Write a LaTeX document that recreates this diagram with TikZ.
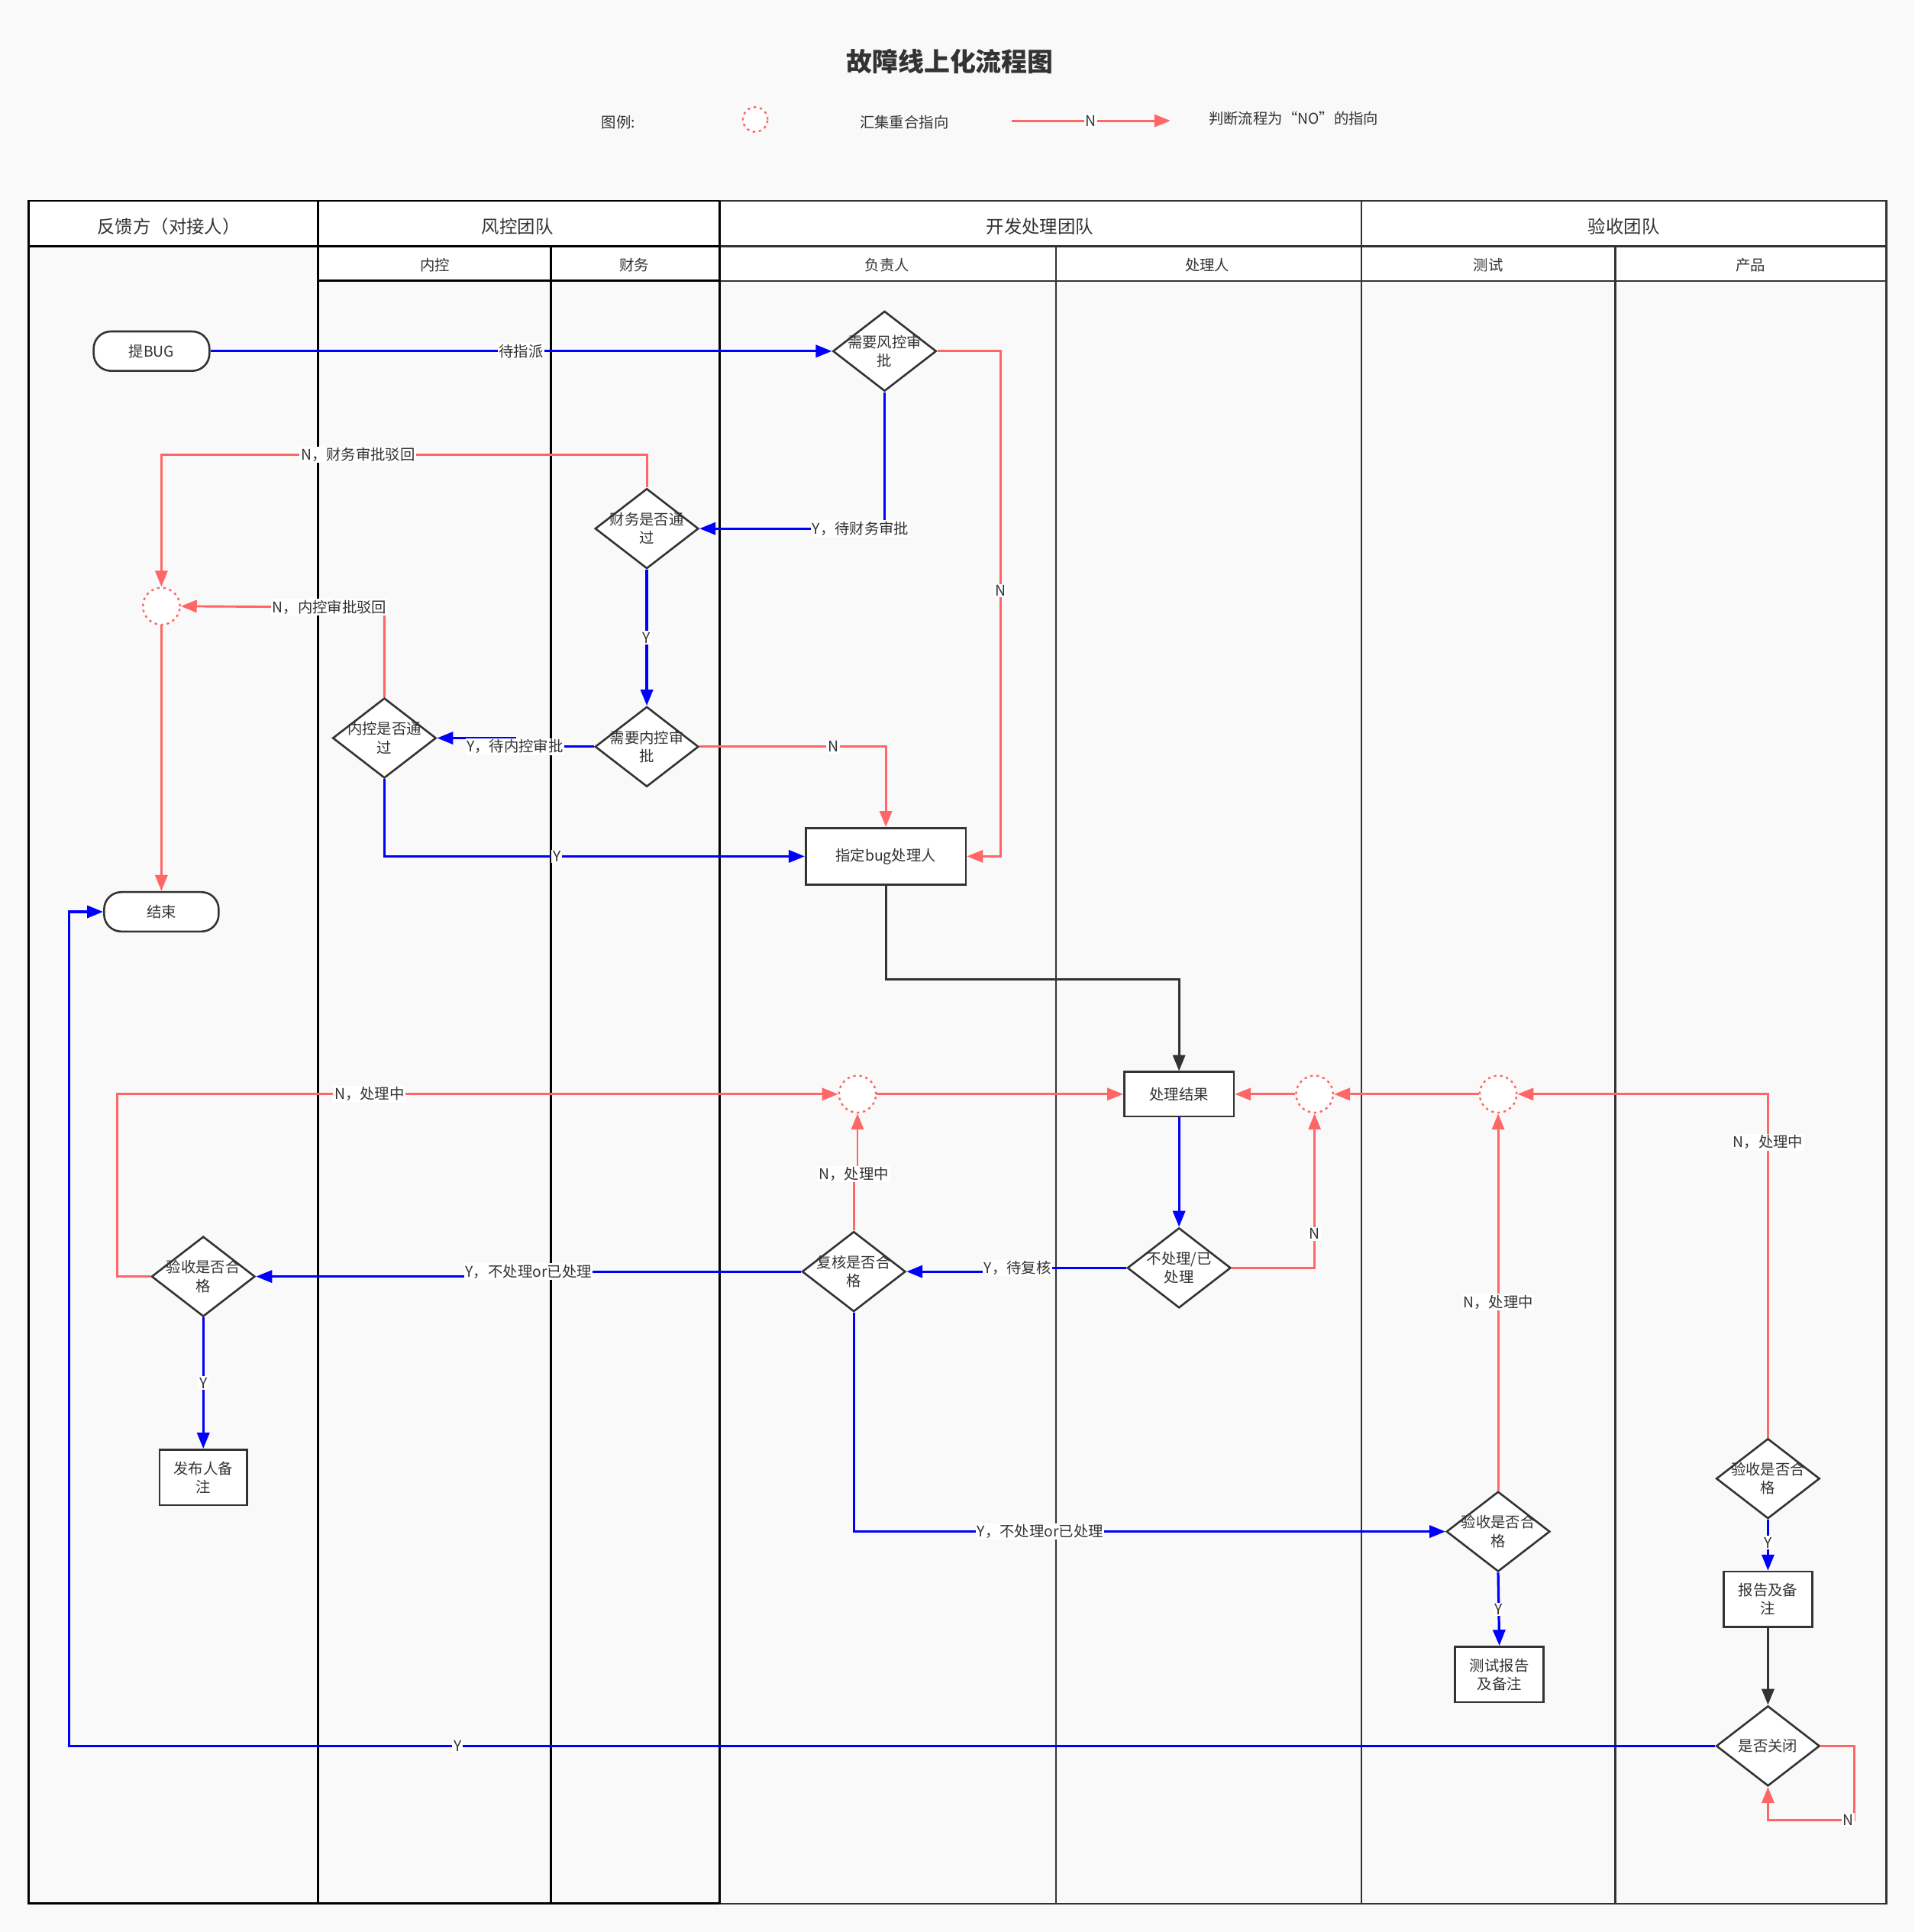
\documentclass[tikz,border=0pt]{standalone}
\usepackage{fontspec}
\setmainfont{Noto Sans CJK SC}
\usetikzlibrary{shapes.geometric,arrows.meta}
\definecolor{bg}{HTML}{F9F9F9}
\definecolor{ink}{HTML}{333333}
\definecolor{nred}{HTML}{FF6666}
\definecolor{yblue}{HTML}{0000FF}
\begin{document}
\begin{tikzpicture}[x=1pt,y=-1pt,
  txt/.style={font=\fontsize{12}{15}\selectfont, text=ink},
  hdr/.style={font=\fontsize{14.5}{16}\selectfont, text=ink},
  sub/.style={font=\fontsize{12}{14}\selectfont, text=ink},
  dia/.style={diamond, draw=ink, line width=1.6pt, fill=white, minimum width=84pt, minimum height=65pt, inner sep=0pt},
  box/.style={rectangle, draw=ink, line width=1.6pt, fill=white, txt, align=center, inner sep=0pt},
  term/.style={rectangle, rounded corners=14pt, draw=ink, line width=1.6pt, fill=white, txt, minimum width=94pt, minimum height=32pt},
  merge/.style={circle, draw=nred, line width=1.5pt, dash pattern=on 2pt off 3pt, fill=white, minimum size=30pt, inner sep=0pt},
  tip/.style={-{Triangle[length=13pt,width=10pt]}},
  yes/.style={draw=yblue, line width=2pt, tip},
  no/.style={draw=nred, line width=1.8pt, tip},
  flow/.style={draw=ink, line width=2pt, tip},
  lbl/.style={txt, fill=white, inner sep=1pt},
  dtxt/.style={label={[txt,align=center]center:#1}},
  blk/.style={draw=black, line width=1.8pt},
  gry/.style={draw=ink, line width=1.6pt}
]
% background and bounding box
\fill[bg] (0,0) rectangle (1554,1568);
\useasboundingbox (0,0) rectangle (1554,1568);

% title and legend
\node[font=\fontsize{21}{24}\selectfont\bfseries, text=ink] (title) at (771,50) {故障线上化流程图};
\node[txt] (lg) at (502,99) {图例:};
\node[merge, minimum size=20pt] (lgc) at (613,97) {};
\node[txt] (lgm) at (734,99) {汇集重合指向};
\coordinate (lga) at (821,98);
\coordinate (lgb) at (950,98);
\draw[no] (lga) -- node[lbl]{N} (lgb);
\node[txt] (lgn) at (1050,96) {判断流程为“NO”的指向};

% pool
\fill[white] (23,163) rectangle (1531,200);
\fill[white] (258,200) rectangle (1531,228);
\draw[gry] (584,163) -- (1531,163) -- (1531,1545) -- (584,1545);
\draw[gry] (584,200) -- (1531,200);
\draw[gry] (584,228) -- (1531,228);
\draw[gry] (857,200) -- (857,1545);
\draw[gry] (1105,163) -- (1105,1545);
\draw[gry] (1311,200) -- (1311,1545);
\draw[blk] (584,163) -- (23,163) -- (23,1545) -- (584,1545);
\draw[blk] (23,200) -- (584,200);
\draw[blk] (258,228) -- (584,228);
\draw[blk] (258,163) -- (258,1545);
\draw[blk] (447,200) -- (447,1545);
\draw[blk] (584,163) -- (584,1545);

\node[hdr] (h1) at (137,184) {反馈方（对接人）};
\node[hdr] (h2) at (420,184) {风控团队};
\node[hdr] (h3) at (844,184) {开发处理团队};
\node[hdr] (h4) at (1318,184) {验收团队};
\node[sub] (s1) at (353,215) {内控};
\node[sub] (s2) at (515,215) {财务};
\node[sub] (s3) at (720,215) {负责人};
\node[sub] (s4) at (980,215) {处理人};
\node[sub] (s5) at (1208,215) {测试};
\node[sub] (s6) at (1421,215) {产品};

% nodes
\node[term] (bug) at (123,285) {提BUG};
\node[dia, dtxt={需要风控审\\批}] (q1) at (718,285) {};
\node[dia, dtxt={财务是否通\\过}] (fin) at (525,429) {};
\node[merge] (m1) at (131,492) {};
\node[dia, dtxt={需要内控审\\批}] (nk) at (525,606) {};
\node[dia, dtxt={内控是否通\\过}] (nkp) at (312,599) {};
\node[box, minimum width=130pt, minimum height=46pt] (assign) at (719,695) {指定bug处理人};
\node[term, minimum width=93pt] (end) at (131,740) {结束};
\node[box, minimum width=89pt, minimum height=36pt] (res) at (957,888) {处理结果};
\node[merge] (m2) at (696,888) {};
\node[merge] (m3) at (1067,888) {};
\node[merge] (m4) at (1216,888) {};
\node[dia, dtxt={不处理/已\\处理}] (dis) at (957,1029) {};
\node[dia, dtxt={复核是否合\\格}] (rev) at (693,1032) {};
\node[dia, dtxt={验收是否合\\格}] (acc1) at (165,1036) {};
\node[box, minimum width=71pt, minimum height=45pt] (pub) at (165,1199) {发布人备\\注};
\node[dia, dtxt={验收是否合\\格}] (acc2) at (1216,1243) {};
\node[box, minimum width=72pt, minimum height=45pt] (trep) at (1217,1359) {测试报告\\及备注};
\node[dia, dtxt={验收是否合\\格}] (acc3) at (1435,1200) {};
\node[box, minimum width=72pt, minimum height=45pt] (prep) at (1435,1298) {报告及备\\注};
\node[dia, dtxt={是否关闭}] (close) at (1435,1417) {};

% connectors
\draw[yes] (bug.east) -- node[lbl]{待指派} (q1.west);
\draw[yes] (q1.south) -- (718,429) -- node[lbl,pos=0.13]{Y，待财务审批} (fin.east);
\draw[no] (q1.east) -- (812,285) -- node[lbl,pos=0.474]{N} (812,695) -- (assign.east);
\draw[no] (fin.north) -- (525,369) -- node[lbl,pos=0.595]{N，财务审批驳回} (131,369) -- (m1.north);
\draw[yes] (fin.south) -- node[lbl]{Y} (nk.north);
\draw[yes] (nk.west) -- (418,606) node[lbl]{Y，待内控审批} -- (418,599) -- (nkp.east);
\draw[no] (nk.east) -- node[lbl,pos=0.717]{N} (719,606) -- (assign.north);
\draw[yes] (nkp.south) -- (312,695) -- node[lbl,pos=0.41]{Y} (assign.west);
\draw[no] (nkp.north) -- (312,493) -- node[lbl,pos=0.27]{N，内控审批驳回} (m1.east);
\draw[no] (m1.south) -- (end.north);
\draw[flow] (assign.south) -- (719,795) -- (957,795) -- (res.north);
\draw[yes] (res.south) -- (dis.north);
\draw[yes] (dis.west) -- (826,1029) node[lbl]{Y，待复核} -- (826,1032) -- (rev.east);
\draw[no] (dis.east) -- (1067,1029) -- node[lbl,pos=0.22]{N} (m3.south);
\draw[no] (m3.west) -- (res.east);
\draw[no] (m4.west) -- (m3.east);
\draw[no] (rev.north) -- (693,953) node[lbl]{N，处理中} -- (696,953) -- (m2.south);
\draw[no] (m2.east) -- (res.west);
\draw[yes] (rev.west) -- (429,1032) node[lbl]{Y，不处理or已处理} -- (429,1036) -- (acc1.east);
\draw[yes] (rev.south) -- (693,1243) -- node[lbl,pos=0.315]{Y，不处理or已处理} (acc2.west);
\draw[no] (acc1.west) -- (95,1036) -- (95,888) -- node[lbl,pos=0.35]{N，处理中} (m2.west);
\draw[yes] (acc1.south) -- node[lbl]{Y} (pub.north);
\draw[no] (acc2.north) -- node[lbl]{N，处理中} (m4.south);
\draw[yes] (acc2.south) -- node[lbl]{Y} (trep.north);
\draw[no] (acc3.north) -- node[lbl,pos=0.86]{N，处理中} (1435,888) -- (m4.east);
\draw[yes] (acc3.south) -- node[lbl,pos=0.45]{Y} (prep.north);
\draw[flow] (prep.south) -- (close.north);
\draw[yes] (close.west) -- node[lbl,pos=0.764]{Y} (56,1417) -- (56,740) -- (end.west);
\draw[no] (close.east) -- (1505,1417) -- (1505,1477) -- node[lbl,pos=0.07]{N} (1435,1477) -- (close.south);
\end{tikzpicture}
\end{document}
